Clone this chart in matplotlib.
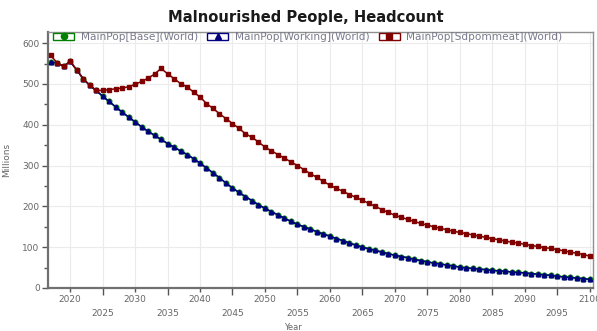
import matplotlib
matplotlib.use("Agg")
import matplotlib.pyplot as plt
from matplotlib.lines import Line2D
from matplotlib.patches import Rectangle
from matplotlib.ticker import MultipleLocator, FixedLocator

# Years and headcount series (millions)
years = list(range(2017, 2101))

working = [553, 552, 543, 555, 535, 513, 497, 484, 470, 457,
           444, 431, 419, 407, 395, 384, 374, 364, 354, 345,
           336, 327, 317, 306, 294, 282, 270, 257, 245, 234,
           224, 214, 204,
           195, 187, 179, 171, 163, 156, 150, 144, 138, 132,
           127, 121, 116, 110, 105, 100, 96, 92, 88, 84,
           80, 77, 74, 70, 67, 64, 61, 59, 56, 54,
           51, 49, 48, 46, 45, 43, 42, 41, 39, 38,
           37, 35, 34, 32, 31, 29, 27, 26, 24, 23, 21]
base = list(working)
sdpommeat = [570, 552, 543, 555, 535, 513, 497, 484, 484, 486,
             488, 490, 493, 499, 506, 514, 524, 538, 525, 513,
             501, 493, 480, 468, 452, 440, 427, 415, 403, 391,
             378, 369, 358,
             345, 336, 327, 318, 309, 300, 290, 280, 271, 261,
             252, 244, 237, 229, 222, 215, 207, 200, 192, 185,
             178, 173, 168, 163, 158, 154, 150, 146, 143, 139,
             136, 133, 130, 127, 124, 121, 118, 115, 112, 110,
             107, 104, 102, 99, 97, 94, 91, 88, 85, 82, 78]

labels = ["MainPop[Base](World)", "MainPop[Working](World)", "MainPop[Sdpommeat](World)"]
colors = ["#008000", "#000080", "#800000"]
markers = ["o", "^", "s"]

fig = plt.figure(figsize=(5.97, 3.31), dpi=100)
ax = fig.add_axes([0.0804, 0.130, 0.9129, 0.773])

for vals, c, m in zip([base, working, sdpommeat], colors, markers):
    ax.plot(years, vals, color=c, lw=1.1, marker=m, ms=3.3, mec=c, mfc=c, zorder=3)

ax.set_xlim(2016.6, 2100.5)
ax.set_ylim(0, 627)

# x ticks: decades on the first row, half-decades on a second row
ax.xaxis.set_major_locator(FixedLocator(list(range(2020, 2101, 10))))
ax.xaxis.set_minor_locator(FixedLocator(list(range(2025, 2100, 10))))
ax.set_xticklabels([str(y) for y in range(2020, 2101, 10)])
ax.set_xticklabels([str(y) for y in range(2025, 2100, 10)], minor=True)
ax.tick_params(axis="x", which="major", length=3, width=1, pad=2, labelsize=6.5,
               colors="#555555", labelcolor="#666666")
ax.tick_params(axis="x", which="minor", length=5, width=1, pad=10.5, labelsize=6.5,
               colors="#555555", labelcolor="#666666")

ax.yaxis.set_major_locator(MultipleLocator(100))
ax.yaxis.set_minor_locator(MultipleLocator(50))
ax.tick_params(axis="y", which="major", length=4, width=1, pad=2, labelsize=6.5,
               colors="#555555", labelcolor="#666666")
ax.tick_params(axis="y", which="minor", length=3, width=1, colors="#555555")

# grid every 5 years and every 100
for x in range(2020, 2101, 5):
    ax.axvline(x, color="#ebebeb", lw=0.8, zorder=0)
for y in range(100, 601, 100):
    ax.axhline(y, color="#ebebeb", lw=0.8, zorder=0)

for side in ["left", "bottom"]:
    ax.spines[side].set_color("#707070")
    ax.spines[side].set_linewidth(1.6)
for side in ["top", "right"]:
    ax.spines[side].set_color("#909090")
    ax.spines[side].set_linewidth(1.0)

ax.set_ylabel("Millions", fontsize=6.5, color="#666666", labelpad=8)
ax.set_xlabel("Year", fontsize=6, color="#666666")
ax.xaxis.set_label_coords(0.450, -0.135)

fig.text(0.513, 0.946, "Malnourished People, Headcount", ha="center", va="center",
         fontsize=10.6, fontweight="bold", color="#1a1a1a")

handles = []
for c, m in zip(colors, markers):
    box = Rectangle((0, 0), 1, 1, facecolor="white", edgecolor=c, lw=1.0)
    mk = Line2D([], [], marker=m, color=c, ls="none", ms=4.5)
    handles.append((box, mk))
leg = ax.legend(handles, labels, loc="upper left", bbox_to_anchor=(0.0, 1.02), ncol=3,
                frameon=False, fontsize=7.6, handlelength=2.0, handleheight=0.75,
                handletextpad=0.6, columnspacing=0.9, borderaxespad=0.1)
for t in leg.get_texts():
    t.set_color("#7a7a8c")

fig.savefig("out.png", dpi=100)
